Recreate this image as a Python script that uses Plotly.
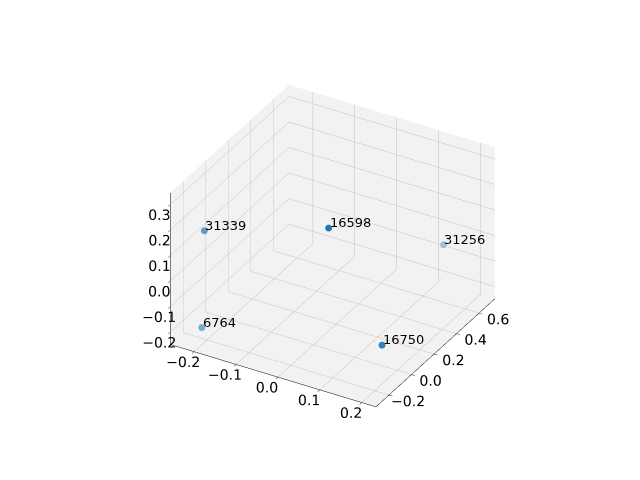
"""3D scatter of labelled points, matplotlib-style look in Plotly."""

import numpy as np
import plotly.graph_objects as go

# data
labels = ["31339", "16598", "31256", "6764", "16750"]
xs = [-0.22, 0.09, 0.125, -0.21, 0.22]
ys = [-0.15, -0.20, 0.69, -0.21, -0.21]
zs = [0.15, 0.335, -0.07, -0.20, -0.055]

x_range = [-0.257, 0.234]
y_range = [-0.315, 0.74]
z_range = [-0.248, 0.346]

# view like matplotlib's default (elev=30, azim=-60)
elev, azim = np.radians(30), np.radians(-60)
view = np.array([np.cos(elev) * np.cos(azim), np.cos(elev) * np.sin(azim), np.sin(elev)])
aspect = np.array([1.0, 1.0, 0.75])
zoom = 1.1


def _norm(v, r):
    return (np.asarray(v) - r[0]) / (r[1] - r[0]) - 0.5


# depth shading: nearer points are more opaque (blended onto the pane colour,
# since per-point rgba is unreliable in gl3d)
pts = np.stack([_norm(xs, x_range), _norm(ys, y_range), _norm(zs, z_range)], axis=1) * aspect
depth = pts @ view
alpha = 1 - 0.6 * (depth.max() - depth) / (depth.max() - depth.min())
base = np.array([31, 119, 180])
bg = np.array([243, 243, 243])
colors = [
    "rgb({},{},{})".format(*np.round(a * base + (1 - a) * bg).astype(int)) for a in alpha
]

fig = go.Figure(
    go.Scatter3d(
        x=xs,
        y=ys,
        z=zs,
        mode="markers",
        text=labels,
        hoverinfo="text",
        marker=dict(size=4, color=colors, opacity=1, line=dict(width=0)),
        showlegend=False,
    )
)

# labels as overlays so they are never hidden behind panes / grid lines
annotations = [
    dict(
        x=x,
        y=y,
        z=z,
        text=t,
        showarrow=False,
        xanchor="left",
        yanchor="bottom",
        xshift=-1,
        yshift=-4,
        font=dict(family="DejaVu Sans", size=13, color="black"),
    )
    for x, y, z, t in zip(xs, ys, zs, labels)
]

axis_style = dict(
    title=dict(text=""),
    showbackground=True,
    backgroundcolor="rgb(242,242,242)",
    gridcolor="rgb(192,192,192)",
    gridwidth=1,
    showline=True,
    linecolor="black",
    ticks="outside",
    tickcolor="black",
    ticklen=4,
    tickangle=0,
    zeroline=False,
    tickfont=dict(family="DejaVu Sans", size=13, color="black"),
    showspikes=False,
)

eye = view * 1.45

fig.update_layout(
    width=640,
    height=480,
    margin=dict(l=0, r=0, t=0, b=0),
    paper_bgcolor="white",
    font=dict(family="DejaVu Sans", size=13, color="black"),
    scene=dict(
        xaxis=dict(axis_style, range=x_range, dtick=0.1, tickformat=".1f"),
        yaxis=dict(axis_style, range=y_range, dtick=0.2, tickformat=".1f"),
        zaxis=dict(axis_style, range=z_range, dtick=0.1, tickformat=".1f"),
        aspectmode="manual",
        aspectratio=dict(x=aspect[0] * zoom, y=aspect[1] * zoom, z=aspect[2] * zoom),
        camera=dict(
            eye=dict(x=eye[0], y=eye[1], z=eye[2]),
            center=dict(x=0, y=0, z=-0.05),
            projection=dict(type="orthographic"),
        ),
        domain=dict(x=[0.042, 0.972], y=[0.035, 0.935]),
        annotations=annotations,
    ),
)

fig.write_html("out.html")
